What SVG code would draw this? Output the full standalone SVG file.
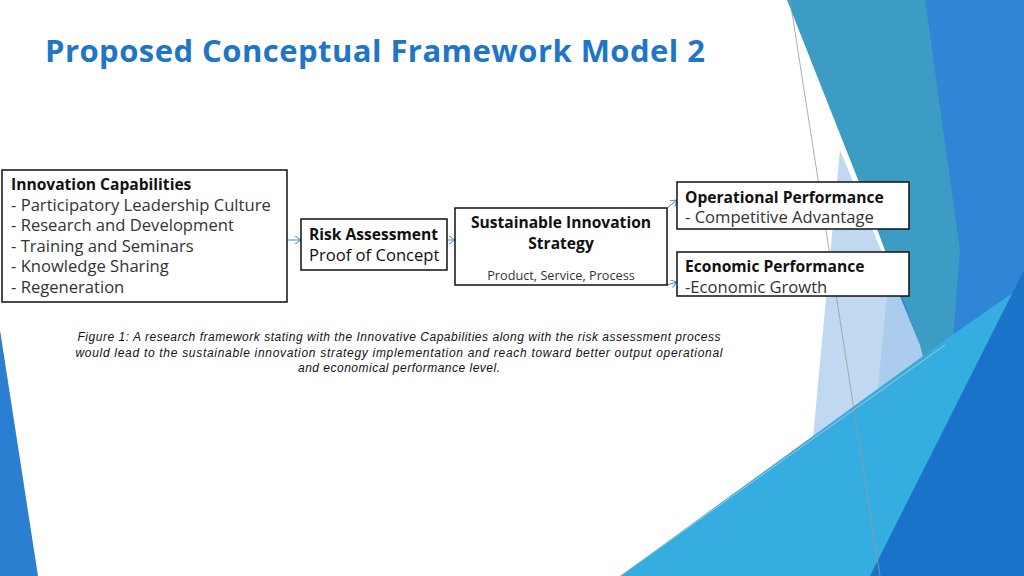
<svg xmlns="http://www.w3.org/2000/svg" width="1024" height="576" viewBox="0 0 1024 576">
<style>
.b{fill:#fff;stroke:#111;stroke-width:1.5}
.t{font-family:"Open Sans","DejaVu Sans",sans-serif;font-size:16.6px;fill:#333}
.h{font-weight:bold;fill:#111;font-size:15.6px}
.s{font-size:12.7px}
.c{stroke:#3a86d0;stroke-width:1;fill:none;marker-end:url(#a)}
.cap{font-family:"Liberation Sans",Arial,sans-serif;font-style:italic;font-size:12px;fill:#111;text-anchor:middle}
</style>
<defs><marker id="a" markerWidth="8" markerHeight="8" refX="7" refY="4" orient="auto" markerUnits="userSpaceOnUse"><path d="M1,0 L7,4 L1,8" fill="none" stroke="#3a86d0" stroke-width="1"/></marker></defs>
<rect width="1024" height="576" fill="#fff"/>
<g id="decor">
<polygon points="0,330 0,576 38,576" fill="#2a7fd0"/>
<polygon points="915,0 1024,0 1024,576 860,576" fill="#2f86d6"/>
<polygon points="787,0 925,0 960,250 945,440 920,345 870,210" fill="#3d9cc4"/>
<polygon points="840,150 920,345 945,440 880,576 800,576" fill="#b9d4ee" opacity="0.9"/>
<polygon points="620,576 945,340 1024,285 1024,576" fill="#35ade0"/>
<polygon points="870,576 1024,270 1024,576" fill="#1a73c8"/>
<line x1="790" y1="0" x2="880" y2="576" stroke="#999" stroke-width="0.8"/>
<line x1="620" y1="576" x2="945" y2="345" stroke="#ccc" stroke-width="0.8"/>
</g>
<text x="45" y="62" font-family="'Open Sans','DejaVu Sans',sans-serif" font-weight="bold" font-size="31" fill="#1f75c6" textLength="660">Proposed Conceptual Framework Model 2</text>
<g id="connectors">
<line class="c" x1="287" y1="240" x2="301" y2="240"/>
<line class="c" x1="447" y1="240" x2="455" y2="240"/>
<line class="c" x1="667" y1="208" x2="677" y2="200"/>
<line class="c" x1="667" y1="285" x2="677" y2="282"/>
</g>
<g id="n1"><rect class="b" x="2" y="170" width="285" height="132"/>
<text class="t" x="11" y="190"><tspan class="h">Innovation Capabilities</tspan><tspan x="11" dy="20.5">- Participatory Leadership Culture</tspan><tspan x="11" dy="20.5">- Research and Development</tspan><tspan x="11" dy="20.5">- Training and Seminars</tspan><tspan x="11" dy="20.5">- Knowledge Sharing</tspan><tspan x="11" dy="20.5">- Regeneration</tspan></text></g>
<g id="n2"><rect class="b" x="301" y="219" width="146" height="51"/>
<text class="t" x="309" y="240"><tspan class="h">Risk Assessment</tspan><tspan x="309" dy="20.5" fill="#111">Proof of Concept</tspan></text></g>
<g id="n3"><rect class="b" x="455" y="208" width="212" height="77"/>
<text class="t h" x="561" y="228" text-anchor="middle">Sustainable Innovation</text>
<text class="t h" x="561" y="249" text-anchor="middle">Strategy</text>
<text class="t s" x="561" y="280" text-anchor="middle">Product, Service, Process</text></g>
<g id="n4"><rect class="b" x="677" y="182" width="232" height="47"/>
<text class="t" x="685" y="203"><tspan class="h">Operational Performance</tspan><tspan x="685" dy="20">- Competitive Advantage</tspan></text></g>
<g id="n5"><rect class="b" x="677" y="252" width="232" height="44"/>
<text class="t" x="685" y="272"><tspan class="h">Economic Performance</tspan><tspan x="685" dy="20.5">-Economic Growth</tspan></text></g>
<g id="caption">
<text class="cap" x="399" y="341" textLength="643">Figure 1: A research framework stating with the Innovative Capabilities along with the risk assessment process</text>
<text class="cap" x="399" y="357" textLength="647">would lead to the sustainable innovation strategy implementation  and reach toward better output operational</text>
<text class="cap" x="399" y="372" textLength="202">and economical performance level.</text>
</g>
</svg>
